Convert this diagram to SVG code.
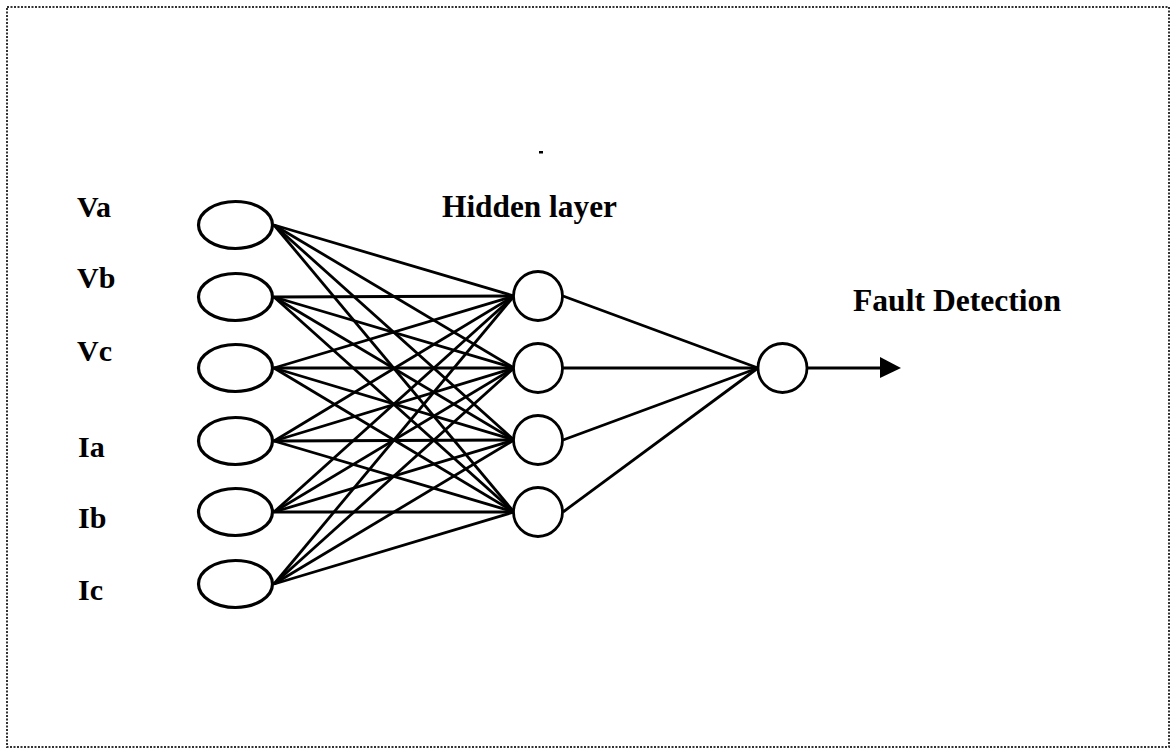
<svg xmlns="http://www.w3.org/2000/svg" width="1174" height="752" viewBox="0 0 1174 752">
<defs>
<style>
.lbl{font-family:"Liberation Serif","Times New Roman",serif;font-weight:bold;fill:#000}
.in{fill:#fff;stroke:#000;stroke-width:3.2}
.hn{fill:#fff;stroke:#000;stroke-width:2.8}
.c line{stroke:#000;stroke-width:2.8}
</style>
</defs>
<rect width="1174" height="752" fill="#fff"/>
<rect x="7" y="7" width="1162" height="740" fill="none" stroke="#333" stroke-width="2" stroke-dasharray="2 1.5"/>
<rect x="539" y="151" width="4" height="2.5" fill="#000"/>
<g id="connectors" class="c">
<line x1="274" y1="225" x2="514" y2="296"/><line x1="274" y1="225" x2="514" y2="368"/><line x1="274" y1="225" x2="514" y2="440"/><line x1="274" y1="225" x2="514" y2="512"/>
<line x1="274" y1="297" x2="514" y2="296"/><line x1="274" y1="297" x2="514" y2="368"/><line x1="274" y1="297" x2="514" y2="440"/><line x1="274" y1="297" x2="514" y2="512"/>
<line x1="274" y1="368" x2="514" y2="296"/><line x1="274" y1="368" x2="514" y2="368"/><line x1="274" y1="368" x2="514" y2="440"/><line x1="274" y1="368" x2="514" y2="512"/>
<line x1="274" y1="441" x2="514" y2="296"/><line x1="274" y1="441" x2="514" y2="368"/><line x1="274" y1="441" x2="514" y2="440"/><line x1="274" y1="441" x2="514" y2="512"/>
<line x1="274" y1="512" x2="514" y2="296"/><line x1="274" y1="512" x2="514" y2="368"/><line x1="274" y1="512" x2="514" y2="440"/><line x1="274" y1="512" x2="514" y2="512"/>
<line x1="274" y1="584" x2="514" y2="296"/><line x1="274" y1="584" x2="514" y2="368"/><line x1="274" y1="584" x2="514" y2="440"/><line x1="274" y1="584" x2="514" y2="512"/>
<line x1="563" y1="296" x2="758" y2="368"/><line x1="563" y1="368" x2="758" y2="368"/><line x1="563" y1="440" x2="758" y2="368"/><line x1="563" y1="512" x2="758" y2="368"/>
<line x1="807" y1="368" x2="884" y2="368"/>
<polygon points="880,357 901,368 880,378" fill="#000"/>
</g>
<g id="in-va"><ellipse class="in" cx="235.5" cy="225" rx="37" ry="23.5"/><text class="lbl" x="77" y="217" font-size="30">Va</text></g>
<g id="in-vb"><ellipse class="in" cx="235.5" cy="297" rx="37" ry="23.5"/><text class="lbl" x="77" y="288" font-size="30">Vb</text></g>
<g id="in-vc"><ellipse class="in" cx="235.5" cy="368" rx="37" ry="23.5"/><text class="lbl" x="77" y="361" font-size="30">Vc</text></g>
<g id="in-ia"><ellipse class="in" cx="235.5" cy="441" rx="37" ry="23.5"/><text class="lbl" x="78" y="457" font-size="30">Ia</text></g>
<g id="in-ib"><ellipse class="in" cx="235.5" cy="512" rx="37" ry="23.5"/><text class="lbl" x="78" y="528" font-size="30">Ib</text></g>
<g id="in-ic"><ellipse class="in" cx="235.5" cy="584" rx="37" ry="23.5"/><text class="lbl" x="78" y="600" font-size="30">Ic</text></g>
<g id="hidden-label"><text class="lbl" x="442" y="217" font-size="31" textLength="175" lengthAdjust="spacingAndGlyphs">Hidden layer</text></g>
<g id="h1"><circle class="hn" cx="538" cy="296" r="24.5"/></g>
<g id="h2"><circle class="hn" cx="538" cy="368" r="24.5"/></g>
<g id="h3"><circle class="hn" cx="538" cy="440" r="24.5"/></g>
<g id="h4"><circle class="hn" cx="538" cy="512" r="24.5"/></g>
<g id="out"><circle class="hn" cx="782.5" cy="368" r="24.5"/></g>
<g id="out-label"><text class="lbl" x="853" y="311" font-size="31" textLength="208" lengthAdjust="spacingAndGlyphs">Fault Detection</text></g>
</svg>
